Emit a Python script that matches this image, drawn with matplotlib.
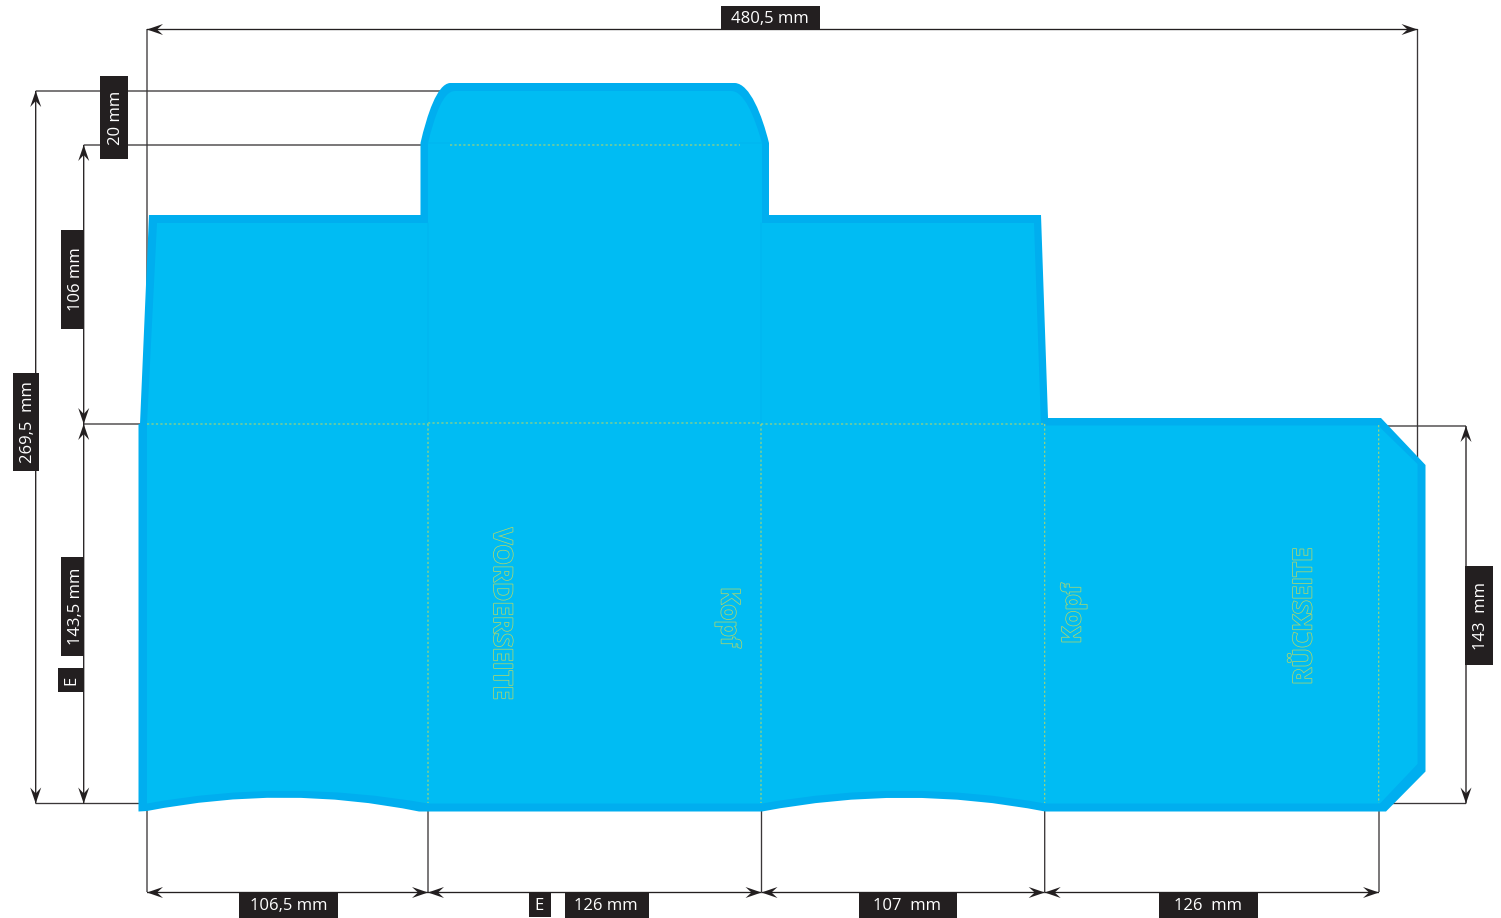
import matplotlib
matplotlib.use("Agg")
import matplotlib.pyplot as plt
import matplotlib.patheffects as pe
from matplotlib.path import Path
from matplotlib.patches import PathPatch, Polygon, Rectangle

W, H = 1501, 918
DARK = "#231f20"
EDGE = "#00aeef"
FILL = "#00bcf3"
FOLD = "#aed66e"
plt.rcParams["font.family"] = ["Open Sans", "DejaVu Sans"]

# outlines: (code, x, y), M move, L line, Q quad, C cubic
outer_shape = [
    ("M", 140, 424), ("L", 149, 215), ("L", 420.5, 215), ("L", 420.5, 143),
    ("C", 427, 115), ("C", 437, 84), ("C", 450, 83), ("L", 735, 83),
    ("C", 750, 84), ("C", 762, 115), ("C", 769, 143), ("L", 769, 215),
    ("L", 1041, 215), ("L", 1048, 418), ("L", 1381, 418), ("L", 1425.5, 465),
    ("L", 1425.5, 771.5), ("L", 1386, 811.5), ("L", 1045, 811.5),
    ("Q", 905, 784), ("Q", 762, 811.5), ("L", 419, 811.5),
    ("Q", 285, 784), ("Q", 147, 811), ("L", 138.5, 811.5), ("L", 138.5, 424),
]
inner_shape = [
    ("M", 147, 424), ("L", 157, 223), ("L", 428, 223), ("L", 428, 143),
    ("C", 435, 115), ("C", 443, 91), ("C", 455, 91), ("L", 731, 91),
    ("C", 744, 91), ("C", 754, 115), ("C", 762, 143), ("L", 762, 223),
    ("L", 1034, 223), ("L", 1041, 425.5), ("L", 1378, 425.5), ("L", 1417.5, 464),
    ("L", 1417.5, 764), ("L", 1380, 803.5), ("L", 1045, 803.5),
    ("Q", 905, 778), ("Q", 762, 803.5), ("L", 428, 803.5),
    ("Q", 285, 778), ("Q", 147, 803.5), ("L", 147, 424),
]

# dimension lines: x0, y0, x1, y1
dim_arrows = [
    (147, 29.5, 1417.5, 29.5),
    (35.7, 91, 35.7, 803.5),
    (83.7, 145, 83.7, 424),
    (83.7, 424, 83.7, 803.5),
    (1466, 426, 1466, 803.5),
    (147, 892.5, 428, 892.5),
    (428, 892.5, 761.5, 892.5),
    (761.5, 892.5, 1044.7, 892.5),
    (1044.7, 892.5, 1379, 892.5),
]
# extension lines
ext_lines = [
    (147, 29, 147, 300), (1417.5, 29, 1417.5, 470),
    (35.7, 91, 445, 91), (83.7, 145, 425, 145),
    (83.7, 424, 145, 424), (35.7, 803.5, 145, 803.5),
    (1380, 426, 1466, 426), (1390, 803.5, 1466, 803.5),
    (147, 805, 147, 892), (428, 805, 428, 892), (761.5, 805, 761.5, 892),
    (1044.7, 805, 1044.7, 892), (1379, 805, 1379, 892),
]
# fold lines
fold_lines = [
    (147, 424, 428, 424), (428, 423, 761, 423), (761, 424, 1045, 424),
    (450, 145, 740, 145),
    (428, 424, 428, 803), (761, 424, 761, 803),
    (1044.7, 424, 1044.7, 803), (1378.7, 425, 1378.7, 803),
]
crease_lines = [(428, 223, 428, 424), (761, 223, 761, 424), (428, 143, 450, 143), (740, 143, 762, 143)]

# black labels: text, left, top, right, bottom, rotation, text nudge in x
dim_labels = [
    ("480,5 mm", 721, 6, 820, 29, 0, -0.5),
    ("20 mm", 100, 76, 128, 159, 90, 2),
    ("106 mm", 61, 230, 84, 329, 90, 4),
    ("269,5  mm", 13, 373, 39, 471, 90, 2),
    ("143,5 mm", 61, 557, 84, 656, 90, 4),
    ("E", 58, 668, 84, 692, 90, 0),
    ("143  mm", 1465, 566, 1493, 665, 90, 2),
    ("106,5 mm", 239, 892, 338, 918, 0, 0),
    ("E", 529, 892, 551, 917, 0, -1),
    ("126 mm", 565, 892, 649, 918, 0, -1),
    ("107  mm", 859, 892, 957, 918, 0, -1),
    ("126  mm", 1159, 892, 1258, 918, 0, 0),
]
# outlined words on the box: text, x, y, rotation
box_words = [
    ("VORDERSEITE", 501.5, 614, 270),
    ("Kopf", 729, 617, 270),
    ("Kopf", 1073, 614, 90),
    ("RÜCKSEITE", 1304, 616, 90),
]


def make_path(shape):
    codes_map = {"M": Path.MOVETO, "L": Path.LINETO, "Q": Path.CURVE3, "C": Path.CURVE4}
    verts = [(p[1], p[2]) for p in shape] + [shape[0][1:]]
    codes = [codes_map[p[0]] for p in shape] + [Path.CLOSEPOLY]
    return Path(verts, codes)


def arrow_head(ax, tip_x, tip_y, dx, dy):
    # stealth head, 16 px long and 11 px wide
    nx, ny = -dy, dx
    pts = [
        (tip_x, tip_y),
        (tip_x - 16 * dx + 5.5 * nx, tip_y - 16 * dy + 5.5 * ny),
        (tip_x - 10 * dx, tip_y - 10 * dy),
        (tip_x - 16 * dx - 5.5 * nx, tip_y - 16 * dy - 5.5 * ny),
    ]
    ax.add_patch(Polygon(pts, closed=True, fc=DARK, ec="none", zorder=4))


fig = plt.figure(figsize=(W / 100, H / 100), dpi=100)
ax = fig.add_axes([0, 0, 1, 1])
ax.set_xlim(0, W)
ax.set_ylim(H, 0)
ax.axis("off")

for x0, y0, x1, y1 in ext_lines:
    ax.plot([x0, x1], [y0, y1], color="#3a3738", lw=0.95, zorder=1,
            solid_capstyle="butt", snap=False)

ax.add_patch(PathPatch(make_path(outer_shape), fc=EDGE, ec="none", zorder=2))
ax.add_patch(PathPatch(make_path(inner_shape), fc=FILL, ec="none", zorder=2.1))

for x0, y0, x1, y1 in crease_lines:
    ax.plot([x0, x1], [y0, y1], color="#00b5ef", lw=0.7, zorder=2.2, snap=False)
for x0, y0, x1, y1 in fold_lines:
    ax.plot([x0, x1], [y0, y1], color=FOLD, lw=0.8, ls=(0, (2, 2)), zorder=2.3, snap=False)

for x0, y0, x1, y1 in dim_arrows:
    ax.plot([x0, x1], [y0, y1], color=DARK, lw=0.95, zorder=3,
            solid_capstyle="butt", snap=False)
    length = ((x1 - x0) ** 2 + (y1 - y0) ** 2) ** 0.5
    dx, dy = (x1 - x0) / length, (y1 - y0) / length
    arrow_head(ax, x1, y1, dx, dy)
    arrow_head(ax, x0, y0, -dx, -dy)

for text, left, top, right, bottom, rot, nudge in dim_labels:
    ax.add_patch(Rectangle((left, top), right - left, bottom - top, fc=DARK, ec="none", zorder=5))
    ty = (top + bottom) / 2 + (0 if rot == 90 else 1.5)
    ax.text((left + right) / 2 + nudge, ty, text, color="white", fontsize=12, rotation=rot,
            ha="center", va="center", zorder=6)

for text, x, y, rot in box_words:
    ax.text(x, y, text, color=FILL, fontsize=18.7, fontweight="bold", rotation=rot,
            ha="center", va="center", zorder=3,
            path_effects=[pe.Stroke(linewidth=1.1, foreground=FOLD), pe.Normal()])

fig.savefig("out.png", dpi=100)
